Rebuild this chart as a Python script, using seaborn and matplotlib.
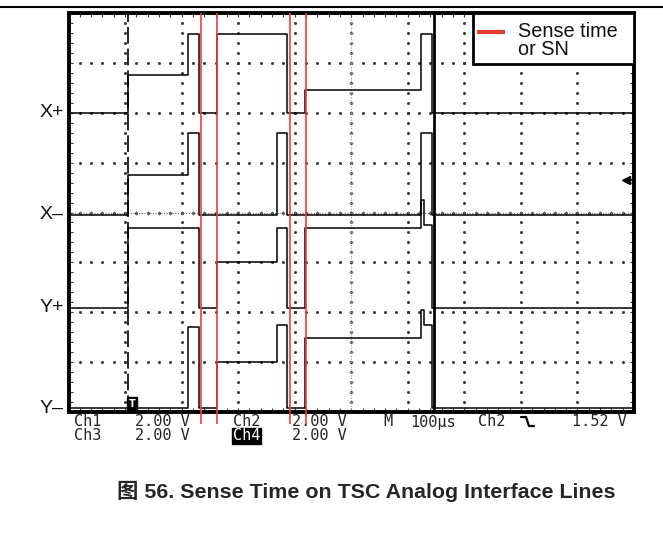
import numpy as np
import pandas as pd
import matplotlib
matplotlib.use('Agg')
import matplotlib.pyplot as plt
from matplotlib.lines import Line2D
from matplotlib.patches import Rectangle
import seaborn as sns

# --- scope capture ---
# time axis in divisions (M 100us/div), vertical axis in divisions from graticule bottom
# each level holds from its breakpoint until the next one (steps-post)
t_div = [0, 1.05, 2.12, 2.30, 2.63, 3.69, 3.87, 4.19, 6.24, 6.28, 6.43, 10]
x_plus = [6.00, 6.75, 7.58, 6.00, 7.58, 7.58, 6.00, 6.45, 7.58, 7.58, 6.00, 6.00]
x_minus = [3.95, 4.75, 5.59, 3.95, 3.95, 5.59, 3.95, 3.95, 5.59, 5.59, 3.95, 3.95]
y_plus = [2.08, 3.69, 3.69, 2.08, 3.00, 3.69, 2.08, 3.69, 4.25, 3.75, 2.08, 2.08]
y_minus = [0.08, 0.08, 1.70, 0.08, 1.00, 1.74, 0.08, 1.48, 2.04, 1.74, 0.08, 0.08]

channels = ['X+', 'X–', 'Y+', 'Y–']
ground_levels = [6.00, 3.95, 2.10, 0.08]

sense_edges = [2.34, 2.63, 3.92, 4.20]   # red "sense time" markers
trigger_pos = 1.05
cursor_pos = 6.47
trigger_level = 4.65

readout_row1 = ['Ch1', '2.00 V', 'Ch2', '2.00 V', 'M', '100µs', 'Ch2', '1.52 V']
readout_row2 = ['Ch3', '2.00 V', 'Ch4', '2.00 V']

caption = '图 56. Sense Time on TSC Analog Interface Lines'

df = pd.concat([
    pd.DataFrame({'t': t_div, 'v': vals, 'ch': name})
    for name, vals in zip(channels, [x_plus, x_minus, y_plus, y_minus])
])

sns.set_theme(style='white')
plt.rcParams['font.family'] = ['Liberation Sans', 'DejaVu Sans']

W, H = 663, 543
fig = plt.figure(figsize=(W / 100, H / 100), dpi=100)
ax = fig.add_axes([68.5 / W, 1 - 412 / H, (634 - 68.5) / W, (412 - 13) / H])
ax.set_xlim(0, 10)
ax.set_ylim(0, 8)

# graticule: dotted grid lines, dots every 0.2 div
fine_t = np.arange(0, 10.001, 0.2)
fine_v = np.arange(0, 8.001, 0.2)
for gx in range(1, 10):
    ax.plot(np.full(len(fine_v), gx), fine_v, ls='none', marker='s', ms=1.0, color='#333333', zorder=1)
for gy in range(1, 8):
    ax.plot(fine_t, np.full(len(fine_t), gy), ls='none', marker='s', ms=1.0, color='#333333', zorder=1)
# center axes with ticks
ax.axvline(5, ls=(0, (1, 1.5)), color='#999999', lw=0.8, zorder=1)
ax.axhline(4, ls=(0, (1, 1.5)), color='#666666', lw=0.8, zorder=1)
ax.plot(np.full(len(fine_v), 5), fine_v, ls='none', marker='_', ms=3, mew=0.7, color='#888888', zorder=1)
ax.plot(fine_t, np.full(len(fine_t), 4), ls='none', marker='|', ms=3, mew=0.7, color='#666666', zorder=1)

# traces
sns.lineplot(data=df, x='t', y='v', units='ch', estimator=None, sort=False,
             drawstyle='steps-post', color='black', lw=1.1, legend=False, ax=ax, zorder=3)

# trigger position (dashed) and time cursor
ax.axvline(trigger_pos, color='black', lw=1.2, ls=(0, (10, 3)), zorder=2)
ax.axvline(cursor_pos, color='black', lw=2.0, zorder=4)

# sense time markers
ax.vlines(sense_edges, -0.25, 8, color='#ee3b3b', lw=1.2, zorder=5, clip_on=False)

# trigger marker on Y- and trigger level arrow
ax.text(trigger_pos + 0.07, 0.17, 'T', color='white', fontsize=7, weight='bold', ha='center', va='center',
        family='DejaVu Sans', zorder=6,
        bbox=dict(boxstyle='square,pad=0.15', fc='black', ec='black'))
ax.plot([9.82, 10], [trigger_level] * 2, color='black', lw=1.2, zorder=6)
ax.plot([9.85], [trigger_level], marker='<', ms=6, color='black', zorder=6)

# channel labels
for name, lvl in zip(channels, ground_levels):
    ax.text(-0.08, lvl, name, ha='right', va='center', fontsize=14, color='#111111', clip_on=False)

# legend box
ax.add_patch(Rectangle((7.15, 6.97), 10 - 7.15, 8 - 6.97, fc='white', ec='black', lw=2.0, zorder=7))
ax.plot([7.23, 7.72], [7.62, 7.62], color='#e53935', lw=3, zorder=8, solid_capstyle='butt')
ax.text(7.94, 7.62, 'Sense time', fontsize=14.3, va='center', ha='left', zorder=8, color='#111111')
ax.text(7.94, 7.27, 'or SN', fontsize=14.3, va='center', ha='left', zorder=8, color='#111111')

# frame
ax.set_xticks(fine_t)
ax.set_yticks(fine_v)
ax.tick_params(which='both', direction='in', length=3, width=0.8, color='#333333',
               top=True, right=True, bottom=True, left=True,
               labelbottom=False, labelleft=False)
for s in ax.spines.values():
    s.set_linewidth(2.8)
    s.set_color('black')
ax.set_xlabel('')
ax.set_ylabel('')

# readout line under the screen
def ftext(x, y, s, **kw):
    fig.text(x / W, 1 - y / H, s, va='center', ha='left', fontsize=11, family='DejaVu Sans Mono', **kw)

row1_x = [74, 135, 233, 292, 383, 410, 478, 572]
for x, s in zip(row1_x, readout_row1):
    ftext(x, 422, s)
row2_x = [74, 135, 233, 292]
for x, s in zip(row2_x, readout_row2):
    if s == 'Ch4':
        ftext(x, 436, s, color='white',
              bbox=dict(boxstyle='square,pad=0.05', fc='black', ec='black'))
    else:
        ftext(x, 436, s)
# falling edge trigger symbol
fig.add_artist(Line2D(np.array([521, 526, 529, 534]) / W,
                      1 - np.array([417, 417, 426, 426]) / H, color='black', lw=1.6))

# page rule
fig.add_artist(Line2D([0, 1], [1 - 7 / H] * 2, color='black', lw=1.5))

fig.text(117 / W, 1 - 491 / H, caption, fontsize=15.4, weight='bold', va='center', ha='left',
         family=['Liberation Sans', 'Noto Sans CJK SC'])

fig.savefig('out.png', dpi=100)
